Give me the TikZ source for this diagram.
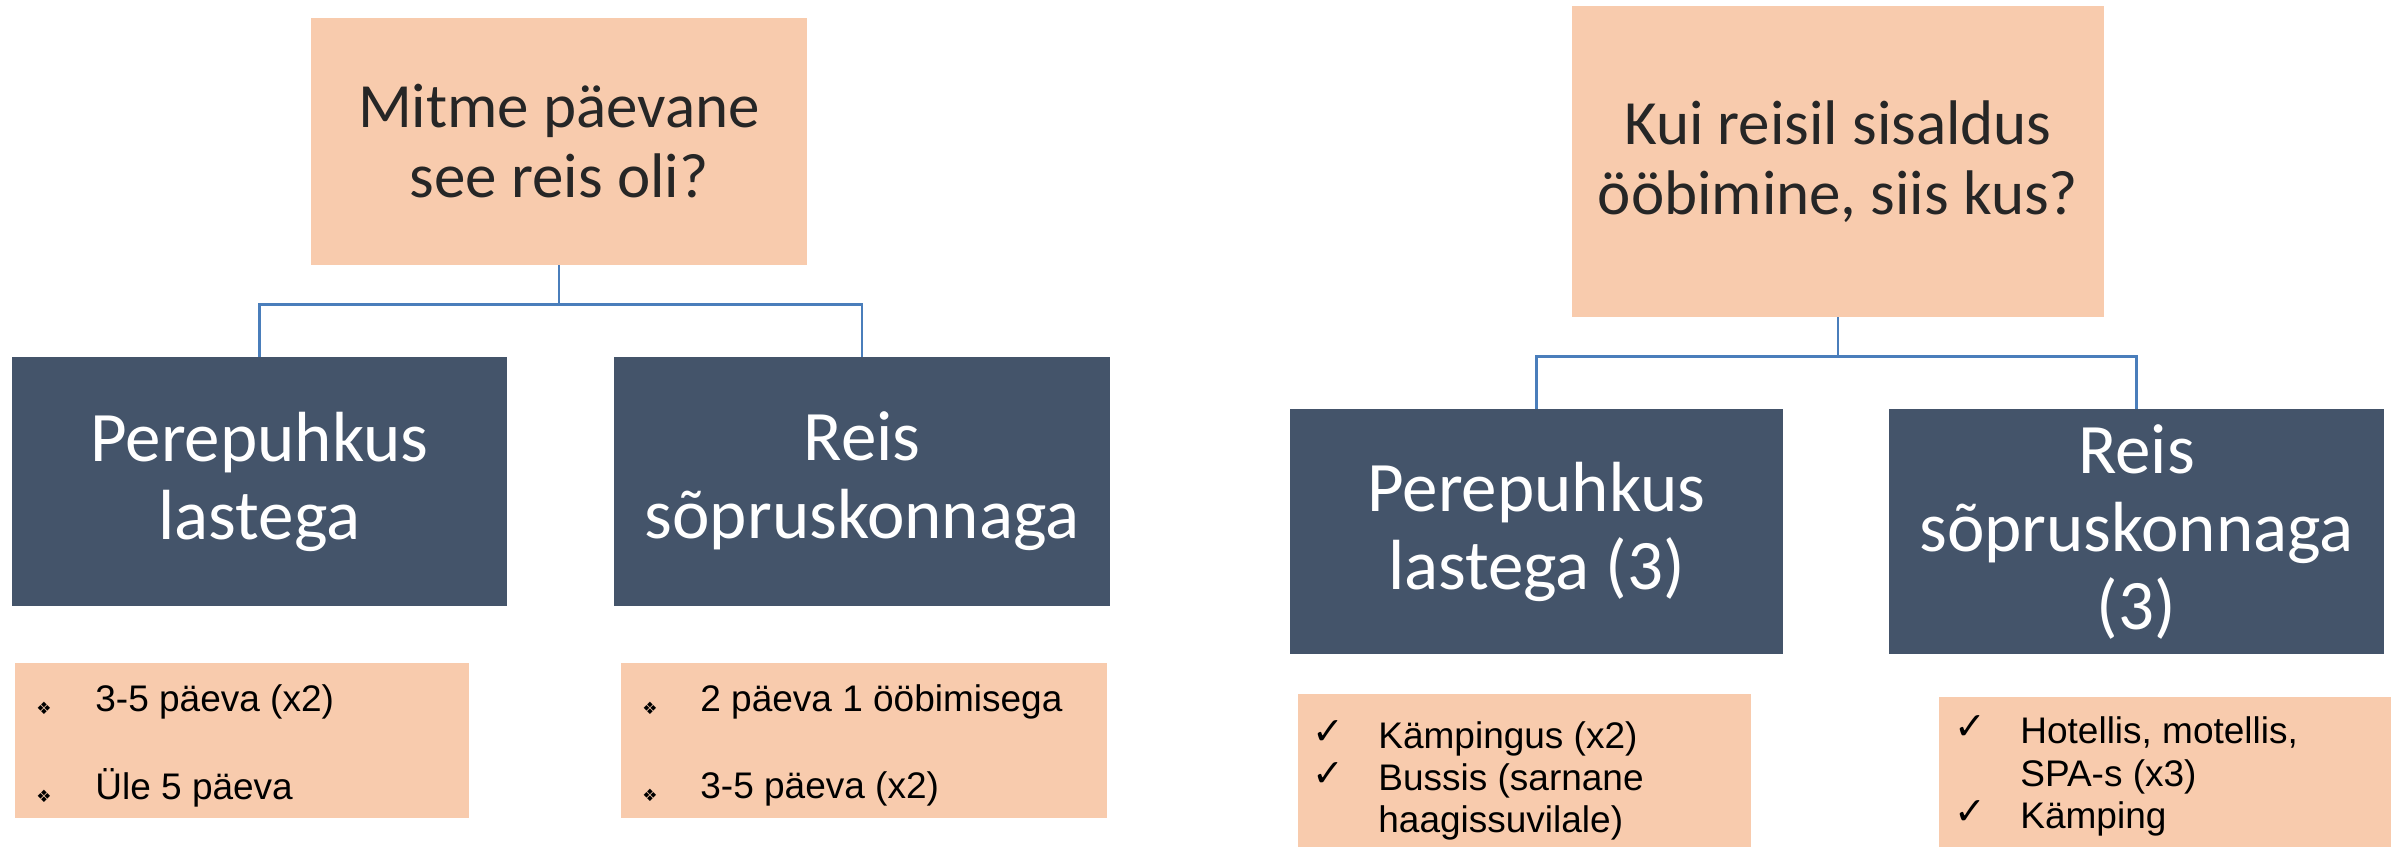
\documentclass[tikz,border=0pt]{standalone}
\usepackage{fontspec}
\setmainfont{Carlito}
\newfontfamily\arialf{Liberation Sans}
\newfontfamily\symf{DejaVu Sans}
\definecolor{peach}{HTML}{F8CBAD}
\definecolor{slate}{HTML}{44546A}
\definecolor{connblue}{HTML}{4A7EBB}
\definecolor{qtext}{HTML}{262626}
\begin{document}
\begin{tikzpicture}[x=0.5pt,y=-0.5pt,
  qbox/.style={fill=peach, draw=none, text=qtext, align=center, font=\fontsize{31.5}{35}\selectfont, inner sep=0pt},
  dbox/.style={fill=slate, draw=none, text=white, align=center, font=\fontsize{35.5}{39}\selectfont, inner sep=0pt},
  lbox/.style={fill=peach, draw=none, inner sep=0pt},
  itemtext/.style={anchor=base west, inner sep=0pt, font=\arialf\fontsize{18.5}{21}\selectfont, text=black},
  diam/.style={inner sep=0pt, font=\symf\fontsize{8.5}{8.5}\selectfont, text=black},
  tick/.style={anchor=base, inner sep=0pt, font=\symf\fontsize{19}{19}\selectfont, text=black},
  link/.style={draw=connblue, line width=1.4pt}]
\useasboundingbox (0,0) rectangle (2405,847);

% ---------- left tree ----------
\node[qbox, minimum width=248pt, minimum height=123.5pt] (q1) at (559,141.5) {Mitme päevane\\see reis oli?};
\node[dbox, minimum width=247.5pt, minimum height=124.5pt] (l1) at (259.5,481.5) {Perepuhkus\\lastega};
\node[dbox, minimum width=248pt, minimum height=124.5pt] (l2) at (862,481.5) {Reis\\sõpruskonnaga};
\draw[link] (q1.south) -- ++(0,39) coordinate (j1) -| (l1.north);
\draw[link] (j1) -| (l2.north);

\node[lbox, minimum width=227pt, minimum height=77.5pt] (b1) at (242,740.5) {};
\node[diam] (b1d1) at (44,708) {❖};
\node[itemtext] (b1t1) at (95,711) {3-5 päeva (x2)};
\node[diam] (b1d2) at (44,796) {❖};
\node[itemtext] (b1t2) at (95,799) {Üle 5 päeva};

\node[lbox, minimum width=243pt, minimum height=77.5pt] (b2) at (864,740.5) {};
\node[diam] (b2d1) at (650,708) {❖};
\node[itemtext] (b2t1) at (700,711) {2 päeva 1 ööbimisega};
\node[diam] (b2d2) at (650,795) {❖};
\node[itemtext] (b2t2) at (700,798) {3-5 päeva (x2)};

% ---------- right tree ----------
\node[qbox, minimum width=266pt, minimum height=155.5pt] (q2) at (1838,161.5) {Kui reisil sisaldus\\ööbimine, siis kus?};
\node[dbox, minimum width=246.5pt, minimum height=122.5pt] (r1) at (1536.5,531.5) {Perepuhkus\\lastega (3)};
\node[dbox, minimum width=247.5pt, minimum height=122.5pt] (r2) at (2136.5,531.5) {Reis\\sõpruskonnaga\\(3)};
\draw[link] (q2.south) -- ++(0,39) coordinate (j2) -| (r1.north);
\draw[link] (j2) -| (r2.north);

\node[lbox, minimum width=226.5pt, minimum height=76.5pt] (b3) at (1524.5,770.5) {};
\node[tick] (b3c1) at (1328,744) {✓};
\node[itemtext] (b3t1) at (1378,748) {Kämpingus (x2)};
\node[tick] (b3c2) at (1328,786) {✓};
\node[itemtext] (b3t2) at (1378,790) {Bussis (sarnane};
\node[itemtext] (b3t3) at (1378,832) {haagissuvilale)};

\node[lbox, minimum width=226pt, minimum height=75pt] (b4) at (2165,772) {};
\node[tick] (b4c1) at (1970,739) {✓};
\node[itemtext] (b4t1) at (2020,743) {Hotellis, motellis,};
\node[itemtext] (b4t2) at (2020,786) {SPA-s (x3)};
\node[tick] (b4c2) at (1970,824) {✓};
\node[itemtext] (b4t3) at (2020,828) {Kämping};
\end{tikzpicture}
\end{document}
